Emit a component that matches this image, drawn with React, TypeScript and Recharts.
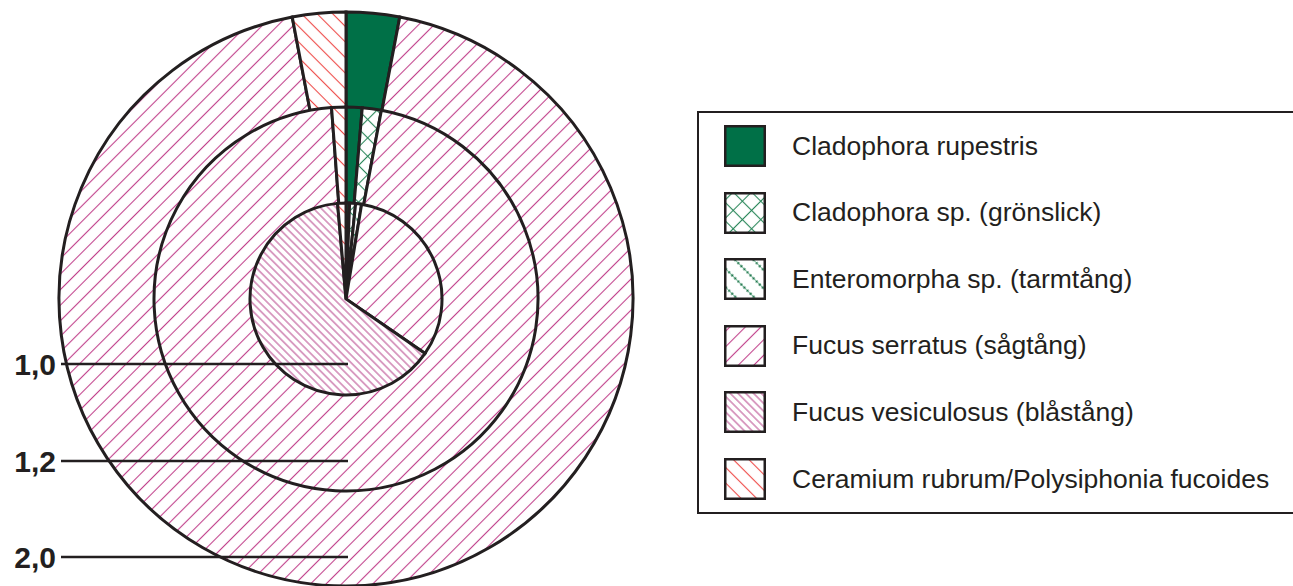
import { PieChart, Pie, Cell, Legend } from "recharts";

// species, in legend order
const species = [
  "Cladophora rupestris",
  "Cladophora sp. (grönslick)",
  "Enteromorpha sp. (tarmtång)",
  "Fucus serratus (sågtång)",
  "Fucus vesiculosus (blåstång)",
  "Ceramium rubrum/Polysiphonia fucoides",
];

// cover (%) per depth, same order as species
const depthLabels = ["1,0", "1,2", "2,0"];
const depth10 = [0.6, 1.0, 1.0, 32.0, 64.0, 1.4];
const depth12 = [1.35, 1.6, 0, 95.85, 0, 1.2];
const depth20 = [3.0, 0, 0, 94.0, 0, 3.0];

const fills = [
  "#007047",
  "url(#cladoSp)",
  "url(#entero)",
  "url(#serratus)",
  "url(#vesic)",
  "url(#ceram)",
];

const ink = "#231f20";
const font = '"Liberation Sans", Arial, Helvetica, sans-serif';

const toData = (values: number[]) =>
  values
    .map((value, i) => ({ name: species[i], value, idx: i }))
    .filter((d) => d.value > 0);

const CX = 346;
const CY = 299;

function HatchDefs() {
  return (
    <defs>
      <pattern id="serratus" width={11} height={11} patternUnits="userSpaceOnUse" patternTransform="rotate(45)">
        <rect width={11} height={11} fill="#fff" />
        <line x1={5.5} y1={0} x2={5.5} y2={11} stroke="#c1418c" strokeWidth={1.1} />
      </pattern>
      <pattern id="vesic" width={5.5} height={5.5} patternUnits="userSpaceOnUse" patternTransform="rotate(-45)">
        <rect width={5.5} height={5.5} fill="#fff" />
        <line x1={2.75} y1={0} x2={2.75} y2={5.5} stroke="#b8468c" strokeWidth={1} />
      </pattern>
      <pattern id="ceram" width={11} height={11} patternUnits="userSpaceOnUse" patternTransform="rotate(-45)">
        <rect width={11} height={11} fill="#fff" />
        <line x1={5.5} y1={0} x2={5.5} y2={11} stroke="#ee4a48" strokeWidth={1.1} />
      </pattern>
      <pattern id="cladoSp" width={13} height={13} patternUnits="userSpaceOnUse" patternTransform="rotate(45)">
        <rect width={13} height={13} fill="#fff" />
        <line x1={6.5} y1={0} x2={6.5} y2={13} stroke="#2a875a" strokeWidth={1.1} />
        <line x1={0} y1={6.5} x2={13} y2={6.5} stroke="#2a875a" strokeWidth={1.1} />
      </pattern>
      <pattern id="entero" width={13} height={13} patternUnits="userSpaceOnUse" patternTransform="rotate(-45)">
        <rect width={13} height={13} fill="#fff" />
        <line x1={6.5} y1={0} x2={6.5} y2={13} stroke="#5aa883" strokeWidth={0.8} />
        <line x1={6.5} y1={0} x2={6.5} y2={13} stroke="#0e6b3e" strokeWidth={2.2} strokeDasharray="1.6 2.7" />
      </pattern>
    </defs>
  );
}

function renderLegend() {
  return (
    <div
      style={{
        position: "relative",
        width: 596,
        height: 403,
        boxSizing: "border-box",
        borderTop: `2px solid ${ink}`,
        borderLeft: `2px solid ${ink}`,
        borderBottom: `2px solid ${ink}`,
        fontFamily: font,
        fontSize: 26.5,
        color: ink,
      }}
    >
      {species.map((s, i) => (
        <div
          key={s}
          style={{
            position: "absolute",
            left: 25,
            top: 12 + i * 66.6,
            height: 42,
            display: "flex",
            alignItems: "center",
            whiteSpace: "nowrap",
          }}
        >
          <svg width={42} height={42} style={{ display: "block" }}>
            <rect x={1.25} y={1.25} width={39.5} height={39.5} fill={fills[i]} stroke={ink} strokeWidth={2.5} />
          </svg>
          <span style={{ marginLeft: 26 }}>{s}</span>
        </div>
      ))}
    </div>
  );
}

export default function App() {
  const rings = [
    { data: toData(depth20), r: 287 },
    { data: toData(depth12), r: 192 },
    { data: toData(depth10), r: 96 },
  ];
  const labelY = [364, 461, 557];

  return (
    <div
      style={{
        position: "absolute",
        left: 0,
        top: 0,
        width: 1293,
        height: 586,
        overflow: "hidden",
        background: "#fff",
      }}
    >
      <PieChart width={1293} height={586} margin={{ top: 0, right: 0, bottom: 0, left: 0 }}>
        <HatchDefs />
        {rings.map((ring, k) => (
          <Pie
            key={k}
            data={ring.data}
            dataKey="value"
            nameKey="name"
            cx={CX}
            cy={CY}
            innerRadius={0}
            outerRadius={ring.r}
            startAngle={90}
            endAngle={-270}
            stroke={ink}
            strokeWidth={3}
            isAnimationActive={false}
            legendType="none"
          >
            {ring.data.map((d) => (
              <Cell key={d.name} fill={fills[d.idx]} />
            ))}
          </Pie>
        ))}
        <Legend
          content={renderLegend}
          layout="vertical"
          verticalAlign="top"
          align="right"
          wrapperStyle={{ left: 697, top: 111, right: "auto", width: 596, height: 403 }}
        />
      </PieChart>
      {/* depth markers drawn over the rings */}
      <svg
        width={400}
        height={586}
        style={{ position: "absolute", left: 0, top: 0, pointerEvents: "none" }}
      >
        {depthLabels.map((lab, i) => (
          <g key={lab}>
            <line x1={61} y1={labelY[i]} x2={348} y2={labelY[i]} stroke={ink} strokeWidth={2.5} />
            <text
              x={56}
              y={labelY[i] + 11}
              textAnchor="end"
              fontFamily={font}
              fontWeight="bold"
              fontSize={30}
              fill={ink}
            >
              {lab}
            </text>
          </g>
        ))}
      </svg>
    </div>
  );
}
